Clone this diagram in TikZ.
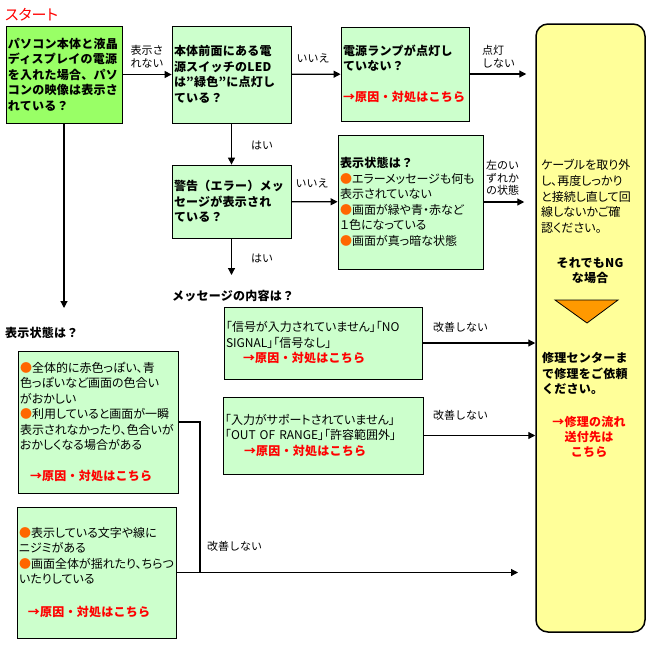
\documentclass[tikz,border=0pt]{standalone}
\usepackage{fontspec}
\setmainfont{Noto Sans CJK JP}[BoldFeatures={LetterSpace=2}]
\newfontfamily\pfont{Noto Sans CJK JP}[RawFeature=+palt]
\usetikzlibrary{arrows.meta}

\definecolor{startgreen}{HTML}{99FF66}
\definecolor{palegreen}{HTML}{CCFFCC}
\definecolor{paleyellow}{HTML}{FFFF99}
\definecolor{dotorange}{HTML}{FF6600}
\definecolor{triorange}{HTML}{FF9900}
\definecolor{linkred}{HTML}{FF0000}

\newcommand{\bul}{\textcolor{dotorange}{●}}
\newcommand{\bfhead}[1]{{\normalfont\bfseries #1}}
\newcommand{\causelink}{\textcolor{linkred}{\normalfont\bfseries →原因・対処はこちら}}

\begin{document}
\begin{tikzpicture}[x=1pt, y=-1pt,
box/.style={draw=black, line width=0.8pt, fill=palegreen, inner xsep=2pt, inner ysep=0pt, align=left, font=\fontsize{12}{15.5}\selectfont\pfont},
boldbox/.style={box, font=\fontsize{12}{15.5}\selectfont\bfseries},
lbl/.style={inner sep=0pt, align=left, font=\fontsize{11}{13}\selectfont},
head/.style={inner sep=0pt, anchor=west, font=\fontsize{12}{15.5}\selectfont\bfseries},
ytext/.style={inner sep=0pt, font=\fontsize{12}{15.7}\selectfont\pfont},
arrow/.style={-{Triangle[length=7pt,width=7pt]},line width=1.2pt},
line/.style={line width=1.2pt} ]

\useasboundingbox (0,0) rectangle (652,645);

\node[inner sep=0pt, anchor=west, text=linkred, font=\fontsize{15}{17}\selectfont\pfont] (title) at (5,15) {スタート};

% top row
\node[boldbox, fill=startgreen, text width=112pt, minimum height=97pt] (start) at (64,74.5)
{パソコン本体と液晶\\ディスプレイの電源\\を入れた場合、パソ\\コンの映像は表示さ\\れている？};

\node[boldbox, text width=115pt, minimum height=97pt] (led) at (231.5,74.5)
{本体前面にある電\\源スイッチのLED\\は”緑色”に点灯し\\ている？};

\node[boldbox, text width=124pt, minimum height=94pt] (lamp) at (405,74)
{電源ランプが点灯し\\ていない？\\[15.5pt]\causelink};

% yellow column
\node[draw=black, line width=1.5pt, fill=paleyellow, rounded corners=12pt, minimum width=109pt, minimum height=608pt, inner sep=0pt] (repair) at (590.5,328) {};

\node[ytext, anchor=west, align=left] (recheck) at (541,196.5)
{ケーブルを取り外\\し、再度しっかり\\と接続し直して回\\線しないかご確\\認ください。};
\node[ytext, align=center, font=\fontsize{12}{15.5}\selectfont\bfseries] (stillng) at (590,270.5) {それでもNG\\な場合};
\draw[fill=triorange, line width=0.8pt] (555,300) -- (618,300) -- (587,323) -- cycle;
\node[ytext, anchor=west, align=left, font=\fontsize{12}{15.5}\selectfont\bfseries] (askrepair) at (542,373.5)
{修理センターま\\で修理をご依頼\\ください。};
\node[ytext, align=center, text=linkred, font=\fontsize{12}{15}\selectfont\bfseries] (flow) at (589,437) {→修理の流れ\\送付先は\\こちら};

% middle
\node[boldbox, text width=115pt, minimum height=73pt] (warn) at (231.5,201.5)
{警告（エラー）メッ\\セージが表示され\\ている？};

\node[box, text width=141pt, minimum height=134pt] (state) at (410.5,202)
{\bfhead{表示状態は？}\\\bul エラーメッセージも何も\\表示されていない\\\bul 画面が緑や青・赤など\\１色になっている\\\bul 画面が真っ暗な状態};

\node[head] (msghead) at (172,296) {メッセージの内容は？};
\node[head] (statehead) at (5,333) {表示状態は？};

\node[box, text width=194pt, minimum height=72pt] (signal) at (323,343)
{「信号が入力されていません」「NO\\SIGNAL」「信号なし」\\\hspace*{17pt}\causelink};

\node[box, text width=196pt, minimum height=77pt] (range) at (323,435.5)
{「入力がサポートされていません」\\「OUT OF RANGE」「許容範囲外」\\\hspace*{19pt}\causelink};

% left column
\node[box, text width=156pt, minimum height=142pt] (tint) at (98,422)
{\bul 全体的に赤色っぽい、青\\色っぽいなど画面の色合い\\がおかしい\\\bul 利用していると画面が一瞬\\表示されなかったり、色合いが\\おかしくなる場合がある\\[15.5pt]\hspace*{10pt}\causelink};

\node[box, text width=155pt, minimum height=131pt] (blur) at (96.5,572.5)
{\bul 表示している文字や線に\\ニジミがある\\\bul 画面全体が揺れたり、ちらつ\\いたりしている\\[17pt]\hspace*{9pt}\causelink};

% labels
\node[lbl] (lnotshown) at (147,57) {表示さ\\れない};
\node[lbl] (lno1) at (313,58) {いいえ};
\node[lbl, anchor=west] (lnotlit) at (482,57) {点灯\\しない};
\node[lbl] (lyes1) at (262,145) {はい};
\node[lbl] (lno2) at (312,183) {いいえ};
\node[lbl] (lyes2) at (262,258) {はい};
\node[lbl, anchor=west, font=\fontsize{11}{12.5}\selectfont] (lany) at (486,178) {左のい\\ずれか\\の状態};
\node[lbl, anchor=west] (lfix1) at (433,327) {改善しない};
\node[lbl, anchor=west] (lfix2) at (433,415) {改善しない};
\node[lbl, anchor=west] (lfix3) at (207,546) {改善しない};

\coordinate (msgend) at (231.5,275);
\coordinate (dispend) at (64,308);
\coordinate (join) at (200,572.5);
\coordinate (bottomend) at (518,572.5);

\draw[arrow] (start) -- (led);
\draw[arrow] (led) -- (lamp);
\draw[arrow, shorten >=9pt] (lamp.east) -- (lamp.east -| repair.west);
\draw[arrow] (led) -- (warn);
\draw[arrow] (warn) -- (msgend);
\draw[arrow] (warn) -- (state);
\draw[arrow, shorten >=11pt] (state.east) -- (state.east -| repair.west);
\draw[arrow] (start) -- (dispend);
\draw[arrow] (signal.east) -- (signal.east -| repair.west);
\draw[arrow] (range.east) -- (range.east -| repair.west);
\draw[line] (tint.east) -| (join);
\draw[arrow] (blur) -- (bottomend);

\end{tikzpicture}
\end{document}
